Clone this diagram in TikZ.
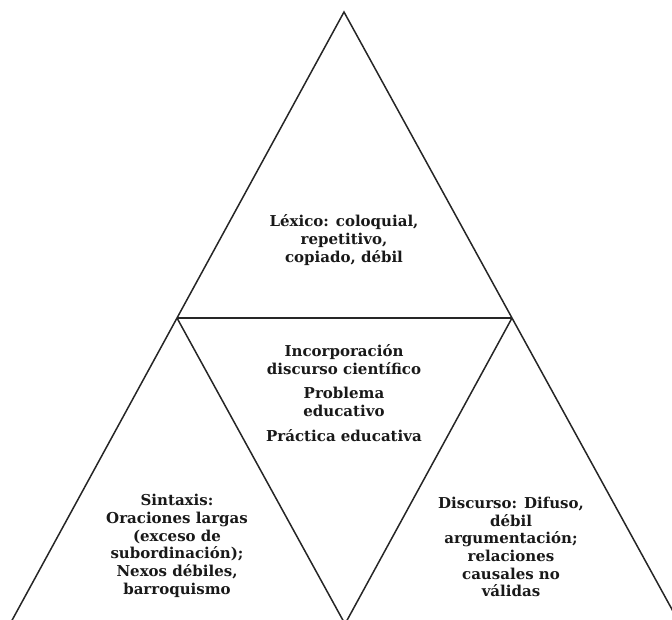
\documentclass[tikz,border=0pt]{standalone}
\usepackage{fontspec}
\setmainfont{DejaVu Serif}
\usetikzlibrary{calc}
\begin{document}
\begin{tikzpicture}[x=1pt,y=-1pt,
  edge/.style={line width=1.5pt,draw=black!85},
  lbl/.style={align=center,font=\fontsize{15}{17.7}\selectfont\bfseries,text=black!90,inner sep=0pt}]
\useasboundingbox (0,0) rectangle (672,620);
\clip (0,0) rectangle (672,620);
\coordinate (A) at (344,12);
\coordinate (L) at (177,318);
\coordinate (R) at (512,318);
\coordinate (B) at ($(L)+(R)-(A)$);
\coordinate (BL) at ($(A)!2.1!(L)$);
\coordinate (BR) at ($(A)!2.1!(R)$);
\draw[edge] (BL) -- (A) -- (BR);
\draw[edge] (L) -- (R);
\draw[edge] (L) -- (B) -- (R);
\node[lbl] (lex) at (344,240) {Léxico: coloquial,\\repetitivo,\\copiado, débil};
\node[lbl] (mid) at (344,393) {Incorporación\\discurso científico\\[7pt]Problema\\educativo\\[7pt]Práctica educativa};
\node[lbl] (sin) at (177,546) {Sintaxis:\\Oraciones largas\\(exceso de\\subordinación);\\Nexos débiles,\\barroquismo};
\node[lbl] (dis) at (511,547) {Discurso: Difuso,\\débil\\argumentación;\\relaciones\\causales no\\válidas};
\end{tikzpicture}
\end{document}
